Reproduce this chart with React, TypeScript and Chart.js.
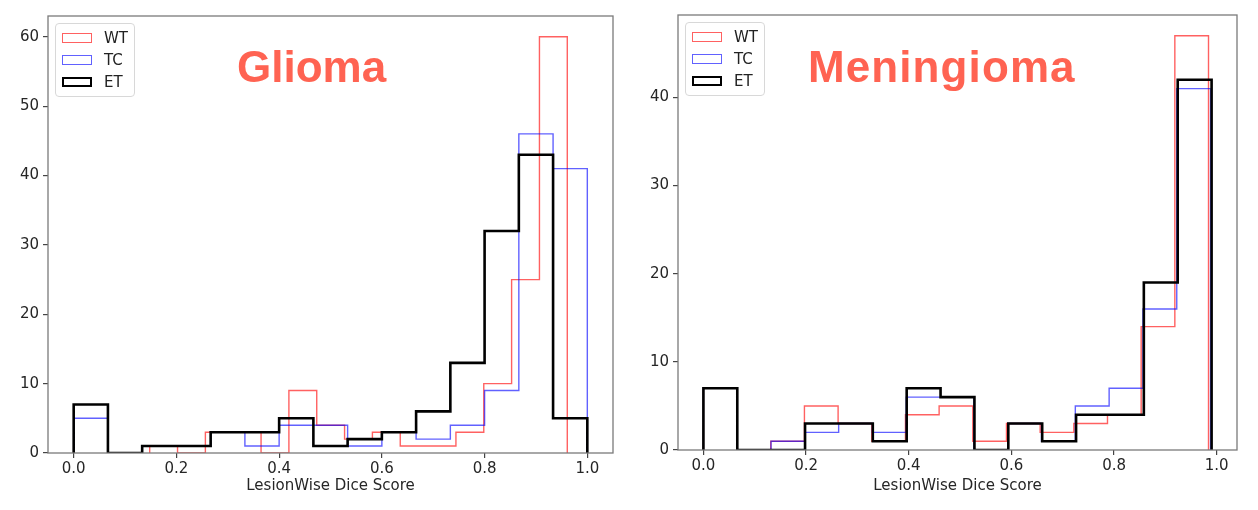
import React, { useEffect, useRef } from 'react';
import { Chart, registerables } from 'chart.js';

Chart.register(...registerables);

// histogram counts, 15 equal bins spread over each series' [min, max]
const GLIOMA_WT = [1, 0, 3, 3, 0, 9, 4, 2, 3, 1, 1, 3, 10, 25, 60];
const GLIOMA_TC = [5, 0, 1, 1, 3, 1, 4, 4, 1, 3, 2, 4, 9, 46, 41];
const GLIOMA_ET = [7, 0, 1, 1, 3, 3, 5, 1, 2, 3, 6, 13, 32, 43, 5];
const GLIOMA_WT_RANGE = [0.148, 0.961];
const GLIOMA_TC_RANGE = [0, 1];
const GLIOMA_ET_RANGE = [0, 1];

const MENING_WT = [7, 0, 1, 5, 3, 1, 4, 5, 1, 3, 2, 3, 4, 14, 47];
const MENING_TC = [7, 0, 1, 2, 3, 2, 6, 6, 0, 3, 1, 5, 7, 16, 41];
const MENING_ET = [7, 0, 0, 3, 3, 1, 7, 6, 0, 3, 1, 4, 4, 19, 42];
const MENING_WT_RANGE = [0, 0.984];
const MENING_TC_RANGE = [0, 0.988];
const MENING_ET_RANGE = [0, 0.99];

const SERIES_LABELS = ['WT', 'TC', 'ET'];
const X_TICKS = [0, 0.2, 0.4, 0.6, 0.8, 1.0];
const GLIOMA_Y_TICKS = [0, 10, 20, 30, 40, 50, 60];
const MENING_Y_TICKS = [0, 10, 20, 30, 40];
const X_LABEL = 'LesionWise Dice Score';

const LINE_COLORS = ['rgba(255,0,0,0.62)', 'rgba(0,0,255,0.62)', '#000000'];
const LINE_WIDTHS = [1.4, 1.4, 2.6];
const FONT = 'DejaVu Sans';

// outline of a step histogram, the way matplotlib histtype='step' draws it
function stepOutline(counts: number[], range: number[]) {
    const [lo, hi] = range;
    const w = (hi - lo) / counts.length;
    const pts = [{ x: lo, y: 0 }];
    counts.forEach((c, i) => {
        pts.push({ x: lo + i * w, y: c });
        pts.push({ x: lo + (i + 1) * w, y: c });
    });
    pts.push({ x: hi, y: 0 });
    return pts;
}

const framePlugin = {
    id: 'frame',
    afterDatasetsDraw(chart: any) {
        const { ctx, chartArea: a } = chart;
        ctx.save();
        ctx.strokeStyle = '#7a7a7a';
        ctx.lineWidth = 1.3;
        ctx.strokeRect(a.left, a.top, a.right - a.left, a.bottom - a.top);
        ctx.restore();
    },
};

interface PanelProps {
    left: number;
    width: number;
    counts: number[][];
    ranges: number[][];
    yTicks: number[];
    axisLeft: number;   // chart area left inside the panel
    padRight: number;
    padTop: number;
    axisBottom: number; // height under the chart area
    title: string;
    titleX: number;
    titleSpacing: number;
}

const Panel: React.FC<PanelProps> = (p) => {
    const canvasRef = useRef<HTMLCanvasElement | null>(null);

    useEffect(() => {
        if (!canvasRef.current) return;
        const lo = Math.min(...p.ranges.map((r) => r[0]));
        const hi = Math.max(...p.ranges.map((r) => r[1]));
        const margin = (hi - lo) * 0.05;
        const yMax = Math.max(...p.counts.flat()) * 1.05;

        const chart = new Chart(canvasRef.current, {
            type: 'line',
            data: {
                datasets: p.counts.map((c, i) => ({
                    label: SERIES_LABELS[i],
                    data: stepOutline(c, p.ranges[i]),
                    borderColor: LINE_COLORS[i],
                    borderWidth: LINE_WIDTHS[i],
                    pointRadius: 0,
                    fill: false,
                    tension: 0,
                    borderJoinStyle: 'miter' as const,
                    order: 2 - i,
                })),
            },
            options: {
                animation: false,
                responsive: false,
                maintainAspectRatio: false,
                layout: { padding: { left: 0, right: p.padRight, top: p.padTop, bottom: 0 } },
                plugins: { legend: { display: false }, tooltip: { enabled: false } },
                scales: {
                    x: {
                        type: 'linear',
                        min: lo - margin,
                        max: hi + margin,
                        afterBuildTicks: (s: any) => {
                            s.ticks = X_TICKS.map((value) => ({ value }));
                        },
                        afterFit: (s: any) => {
                            s.height = p.axisBottom;
                        },
                        grid: { drawOnChartArea: false, tickLength: 5, color: '#444', lineWidth: 1.2 },
                        border: { display: false },
                        ticks: {
                            font: { family: FONT, size: 15 },
                            color: '#262626',
                            padding: 2,
                            maxRotation: 0,
                            autoSkip: false,
                            callback: (v: any) => Number(v).toFixed(1),
                        },
                        title: {
                            display: true,
                            text: X_LABEL,
                            font: { family: FONT, size: 15 },
                            color: '#262626',
                            padding: { top: 0, bottom: 15 },
                        },
                    },
                    y: {
                        type: 'linear',
                        min: 0,
                        max: yMax,
                        afterBuildTicks: (s: any) => {
                            s.ticks = p.yTicks.map((value) => ({ value }));
                        },
                        afterFit: (s: any) => {
                            s.width = p.axisLeft;
                        },
                        grid: { drawOnChartArea: false, tickLength: 5, color: '#444', lineWidth: 1.2 },
                        border: { display: false },
                        ticks: {
                            font: { family: FONT, size: 15 },
                            color: '#262626',
                            padding: 4,
                            autoSkip: false,
                        },
                    },
                },
            },
            plugins: [framePlugin],
        });

        return () => {
            chart.destroy();
        };
    }, []);

    const legendLeft = p.axisLeft + 7;
    const legendTop = p.padTop + 7;

    return (
        <div style={{ position: 'absolute', left: p.left, top: 0, width: p.width, height: 510 }}>
            <canvas ref={canvasRef} width={p.width} height={510} style={{ display: 'block' }} />
            <div
                style={{
                    position: 'absolute',
                    left: legendLeft,
                    top: legendTop,
                    width: 78,
                    height: 72,
                    border: '1px solid #d8d8d8',
                    borderRadius: 4,
                    background: 'rgba(255,255,255,0.85)',
                    fontFamily: FONT,
                    fontSize: 15,
                    color: '#222',
                }}
            >
                {SERIES_LABELS.map((s, i) => (
                    <div key={s} style={{ position: 'absolute', left: 0, top: 4 + i * 22, height: 20, width: 78 }}>
                        <div
                            style={{
                                position: 'absolute',
                                left: 6,
                                top: 5,
                                width: 31 - 2 * LINE_WIDTHS[i],
                                height: 11 - 2 * LINE_WIDTHS[i],
                                border: `${i === 2 ? 2 : 1.4}px solid ${LINE_COLORS[i]}`,
                            }}
                        />
                        <div style={{ position: 'absolute', left: 48, top: 0, lineHeight: '20px' }}>{s}</div>
                    </div>
                ))}
            </div>
            <div
                style={{
                    position: 'absolute',
                    left: p.titleX,
                    top: 45,
                    fontFamily: '"Liberation Sans", Arial, sans-serif',
                    fontWeight: 'bold',
                    fontSize: 44,
                    lineHeight: '44px',
                    letterSpacing: p.titleSpacing,
                    color: '#ff6352',
                    whiteSpace: 'nowrap',
                }}
            >
                {p.title}
            </div>
        </div>
    );
};

const App: React.FC = () => {
    return (
        <div style={{ position: 'fixed', left: 0, top: 0, width: 1258, height: 510, background: '#fff' }}>
            <Panel
                left={0}
                width={620}
                counts={[GLIOMA_WT, GLIOMA_TC, GLIOMA_ET]}
                ranges={[GLIOMA_WT_RANGE, GLIOMA_TC_RANGE, GLIOMA_ET_RANGE]}
                yTicks={GLIOMA_Y_TICKS}
                axisLeft={48}
                padRight={7}
                padTop={16}
                axisBottom={57}
                title="Glioma"
                titleX={237}
                titleSpacing={0}
            />
            <Panel
                left={620}
                width={638}
                counts={[MENING_WT, MENING_TC, MENING_ET]}
                ranges={[MENING_WT_RANGE, MENING_TC_RANGE, MENING_ET_RANGE]}
                yTicks={MENING_Y_TICKS}
                axisLeft={58}
                padRight={21}
                padTop={15}
                axisBottom={60}
                title="Meningioma"
                titleX={808 - 620}
                titleSpacing={1.1}
            />
        </div>
    );
};

export default App;
